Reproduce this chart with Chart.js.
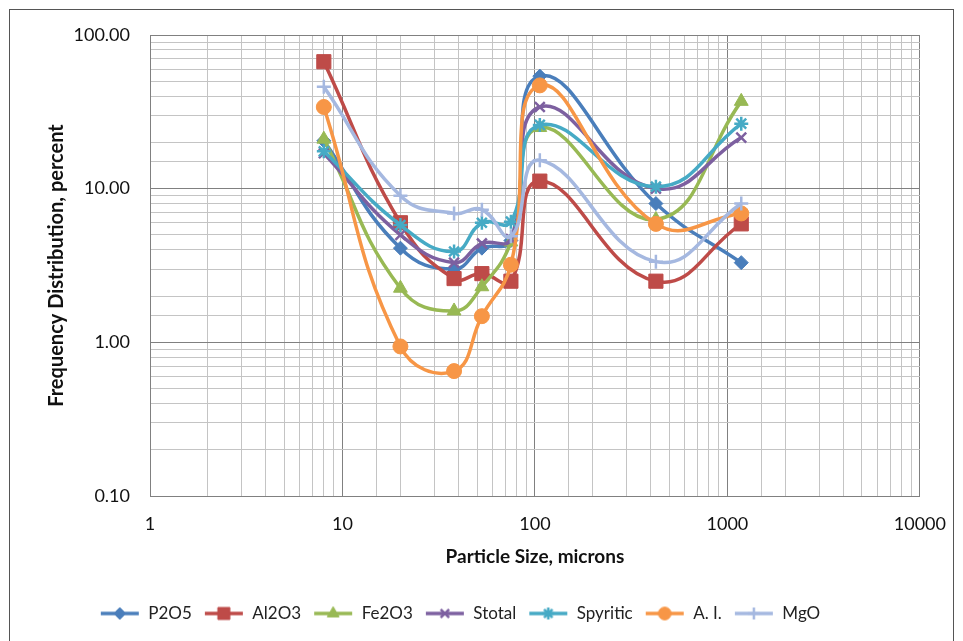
<!DOCTYPE html>
<html>
<head>
<meta charset="utf-8">
<title>Frequency Distribution</title>
<script src="https://cdn.jsdelivr.net/npm/chart.js@4.4.1/dist/chart.umd.min.js"></script>
<style>
  html, body { margin: 0; padding: 0; background: #fff; }
  #wrap { position: relative; width: 963px; height: 641px; overflow: hidden; }
  #wrap canvas { position: absolute; left: 0; top: 0; }
  #frame { position: absolute; left: 9px; top: 9px; width: 945px; height: 660px;
           border: 1px solid #555; box-sizing: border-box; pointer-events: none; }
</style>
</head>
<body>
<div id="wrap">
  <canvas id="chart" width="963" height="641"></canvas>
  <div id="frame"></div>
</div>
<script>
// particle sizes (microns) and frequency (%)
const sizes    = [8, 20, 38, 53, 75, 106, 425, 1180];
const p2o5     = [20.5, 4.1, 3.0, 4.1, 4.6, 54, 8.0, 3.3];
const al2o3    = [67, 6.0, 2.6, 2.8, 2.5, 11.2, 2.5, 5.9];
const fe2o3    = [21, 2.25, 1.6, 2.3, 4.5, 25, 6.3, 37];
const stotal   = [17, 5.0, 3.3, 4.4, 4.7, 34, 10, 21.5];
const spyritic = [17.5, 5.8, 3.9, 6.0, 6.1, 26, 10.3, 26.5];
const ai       = [34, 0.94, 0.65, 1.48, 3.2, 47, 5.9, 6.9];
const mgo      = [46, 9.0, 6.9, 7.3, 4.9, 15.3, 3.35, 8.0];

const seriesNames = ['P2O5', 'Al2O3', 'Fe2O3', 'Stotal', 'Spyritic', 'A. I.', 'MgO'];
const seriesData  = [p2o5, al2o3, fe2o3, stotal, spyritic, ai, mgo];
const xMajor = [1, 10, 100, 1000, 10000];
const yMajor = [0.1, 1, 10, 100];

const colors = ['#4a7ebb', '#be4b48', '#98b954', '#7d60a0', '#46aac5', '#f79646', '#a5b8e0'];
const styles = ['rectRot', 'rect', 'triangle', 'crossRot', 'star', 'circle', 'cross'];
const radii  = [7, 10, 8, 7, 7, 7.5, 7];

const FONT = 'Lato, "Open Sans", sans-serif';

function isMajor(v, list){
  return list.some(m => Math.abs(v - m) / m < 1e-6);
}

const datasets = seriesNames.map((name, i) => ({
  label: name,
  data: sizes.map((x, j) => ({ x: x, y: seriesData[i][j] })),
  borderColor: colors[i],
  backgroundColor: colors[i],
  borderWidth: 3.5,
  pointStyle: styles[i],
  pointRadius: radii[i],
  pointBorderWidth: (styles[i] === 'crossRot' || styles[i] === 'star' || styles[i] === 'cross') ? 2.5 : 1,
  tension: 0.45,
  order: seriesNames.length - i
}));

// small line + marker picture for each legend entry, like Excel's
function legendIcon(ds){
  const c = document.createElement('canvas');
  c.width = 40; c.height = 18;
  const g = c.getContext('2d');
  g.strokeStyle = ds.borderColor;
  g.lineWidth = 3.5;
  g.beginPath(); g.moveTo(1, 9); g.lineTo(39, 9); g.stroke();
  g.fillStyle = ds.borderColor;
  g.lineWidth = ds.pointBorderWidth;
  Chart.helpers.drawPoint(g, { pointStyle: ds.pointStyle, radius: ds.pointRadius * 0.85, borderWidth: ds.pointBorderWidth, rotation: 0 }, 20, 9);
  return c;
}

new Chart(document.getElementById('chart'), {
  type: 'line',
  data: { datasets },
  options: {
    responsive: false,
    devicePixelRatio: 1,
    animation: false,
    layout: { padding: { left: 0, right: 43, top: 35, bottom: 9 } },
    plugins: {
      tooltip: { enabled: false },
      legend: {
        position: 'bottom',
        labels: {
          usePointStyle: true,
          pointStyleWidth: 40,
          padding: 12,
          color: '#222',
          font: { family: FONT, size: 17 },
          sort: (a, b) => a.datasetIndex - b.datasetIndex,
          generateLabels: chart => chart.data.datasets.map((ds, i) => ({
            text: ds.label,
            pointStyle: legendIcon(ds),
            fillStyle: ds.borderColor,
            strokeStyle: ds.borderColor,
            lineWidth: 0,
            hidden: false,
            datasetIndex: i,
            fontColor: '#222'
          }))
        }
      }
    },
    scales: {
      x: {
        type: 'logarithmic',
        min: 1, max: 10000,
        afterFit: s => { s.height = 97; },
        border: { color: '#808080' },
        grid: {
          drawTicks: false,
          color: c => isMajor(c.tick.value, xMajor) ? '#808080' : '#c4c4c4'
        },
        ticks: {
          autoSkip: false, maxRotation: 0, padding: 17,
          color: '#111',
          font: { family: FONT, size: 18 },
          callback: v => isMajor(v, xMajor) ? String(Math.round(v)) : ''
        },
        title: {
          display: true, text: 'Particle Size, microns',
          color: '#111',
          font: { family: FONT, size: 19, weight: 'bold' },
          padding: { top: 0, bottom: 25 }
        }
      },
      y: {
        type: 'logarithmic',
        min: 0.1, max: 100,
        afterFit: s => { s.width = 150; },
        border: { color: '#808080' },
        grid: {
          drawTicks: false,
          color: c => isMajor(c.tick.value, yMajor) ? '#808080' : '#c4c4c4'
        },
        ticks: {
          autoSkip: false, padding: 20,
          color: '#111',
          font: { family: FONT, size: 18 },
          callback: v => isMajor(v, yMajor) ? Number(v).toFixed(2) : ''
        },
        title: {
          display: true, text: 'Frequency Distribution, percent',
          color: '#111',
          font: { family: FONT, size: 20, weight: 'bold' },
          padding: { top: 45, bottom: 0 }
        }
      }
    }
  }
});
</script>
</body>
</html>
